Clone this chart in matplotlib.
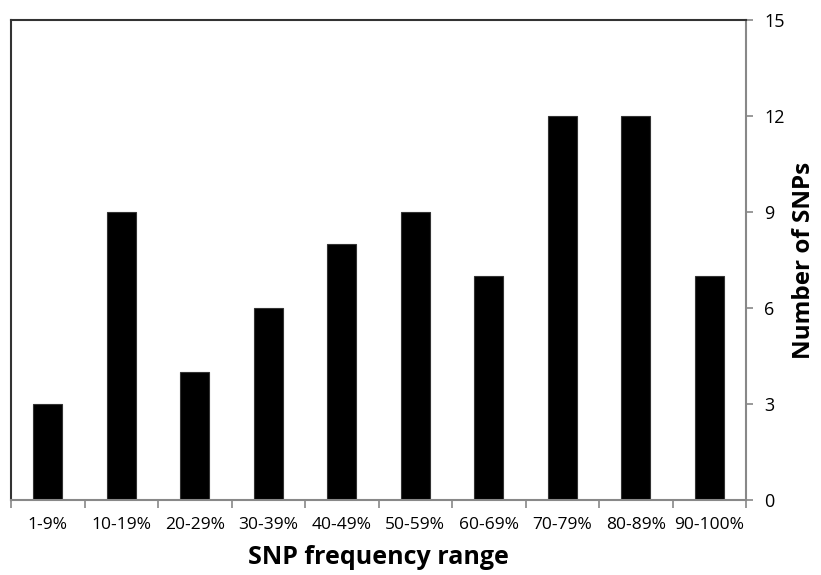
import matplotlib
matplotlib.use("Agg")
import matplotlib.pyplot as plt
import numpy as np

categories = ["1-9%", "10-19%", "20-29%", "30-39%", "40-49%", "50-59%",
              "60-69%", "70-79%", "80-89%", "90-100%"]
counts = [3, 9, 4, 6, 8, 9, 7, 12, 12, 7]
yticks = [0, 3, 6, 9, 12, 15]

plt.rcParams['font.family'] = ['Open Sans', 'DejaVu Sans']

fig = plt.figure(figsize=(8.21, 5.75), dpi=100)
ax = fig.add_axes([0.0134, 0.1304, 0.8953, 0.8348])

x = np.arange(len(categories))
ax.bar(x, counts, width=0.4, color='black', edgecolor='#333333', linewidth=0.8)
ax.set_xlim(-0.5, len(categories) - 0.5)
ax.set_ylim(0, 15)

ax.yaxis.tick_right()
ax.yaxis.set_label_position('right')
ax.set_yticks(yticks)
ax.set_yticklabels([str(v) for v in yticks], fontsize=13)
ax.tick_params(axis='y', direction='out', length=5, color='#888888', width=1.2, pad=8)

ax.set_xticks(np.arange(len(categories) + 1) - 0.5, minor=False)
ax.set_xticklabels([])
ax.set_xticks(x, minor=True)
ax.set_xticklabels(categories, minor=True, fontsize=12.5)
ax.tick_params(axis='x', which='major', direction='out', length=6, color='#888888', width=1.2)
ax.tick_params(axis='x', which='minor', length=0, pad=12)

for side in ['left', 'top']:
    ax.spines[side].set_color('#333333')
    ax.spines[side].set_linewidth(1.5)
for side in ['right', 'bottom']:
    ax.spines[side].set_color('#888888')
    ax.spines[side].set_linewidth(1.5)

ax.set_xlabel('SNP frequency range', fontsize=18, fontweight='bold', labelpad=9)
ax.set_ylabel('Number of SNPs', fontsize=17.5, fontweight='bold', labelpad=5)

fig.savefig('out.png', dpi=100)
